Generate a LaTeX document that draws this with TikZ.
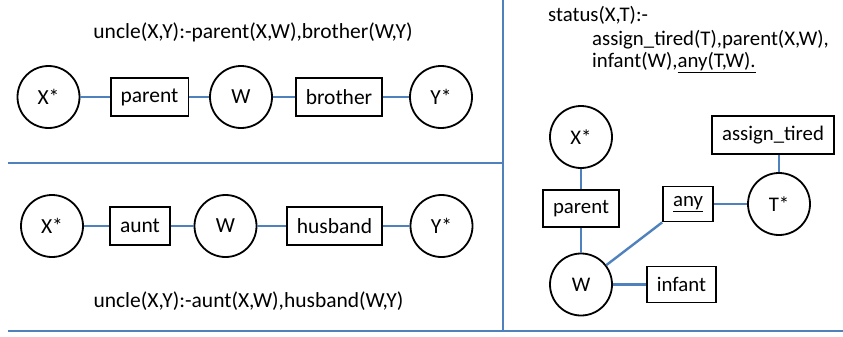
\documentclass[tikz,border=0pt]{standalone}
\usepackage{fontspec}
\setmainfont{Carlito}
\definecolor{lnblue}{HTML}{4F81BD}
\tikzset{
  var/.style={circle, draw=black, line width=1.8pt, minimum size=62pt, inner sep=0pt},
  rel/.style={rectangle, draw=black, line width=1.8pt, minimum height=38pt, inner xsep=10pt, inner ysep=0pt},
  link/.style={draw=lnblue, line width=2.4pt},
  panel/.style={draw=lnblue, line width=2.6pt},
  lbl/.style={inner sep=0pt},
  bigf/.style={font=\fontsize{21.5}{24}\selectfont},
  smallf/.style={font=\fontsize{20.8}{24}\selectfont}
}
\begin{document}
\begin{tikzpicture}[x=1pt,y=-1pt]
\useasboundingbox (0,0) rectangle (843,337);
% panel lines
\draw[panel] (503,0) -- (503,331);
\draw[panel] (8,163) -- (503,163);
\draw[panel] (8,331) -- (843,331);

% top-left
\node[lbl,bigf] (t1) at (253,32) {uncle(X,Y):-parent(X,W),brother(W,Y)};
\node[var,bigf] (X1) at (48.5,97) {X*};
\node[rel,bigf] (p1) at (149.5,97) {parent};
\node[var,bigf] (W1) at (241,97) {W};
\node[rel,bigf] (b1) at (339,97) {brother};
\node[var,bigf] (Y1) at (441,97) {Y*};
\draw[link] (X1) -- (p1);
\draw[link] (p1) -- (W1);
\draw[link] (W1) -- (b1);
\draw[link] (b1) -- (Y1);

% bottom-left
\node[var,bigf] (X2) at (52,226) {X*};
\node[rel,bigf] (a2) at (140,226) {aunt};
\node[var,bigf] (W2) at (225.5,226) {W};
\node[rel,bigf] (h2) at (334.5,226) {husband};
\node[var,bigf] (Y2) at (441.5,226) {Y*};
\node[lbl,bigf] (t2) at (248.5,301) {uncle(X,Y):-aunt(X,W),husband(W,Y)};
\draw[link] (X2) -- (a2);
\draw[link] (a2) -- (W2);
\draw[link] (W2) -- (h2);
\draw[link] (h2) -- (Y2);

% right panel text
\node[lbl,smallf,anchor=west] (r1) at (548,15) {status(X,T):-};
\node[lbl,smallf,anchor=west] (r2) at (592,40) {assign\_tired(T),parent(X,W),};
\node[lbl,smallf,anchor=west] (r3) at (592,63) {infant(W),\underline{any(T,W).}};

% right graph
\node[var,smallf] (X3) at (581,137) {X*};
\node[rel,smallf,minimum height=37pt] (pr3) at (581,208.5) {parent};
\node[var,smallf] (W3) at (581,284.5) {W};
\node[rel,smallf,minimum height=36pt] (inf3) at (681.5,284.5) {infant};
\node[rel,smallf,minimum height=35pt] (any3) at (688,204) {\underline{any}};
\node[var,smallf] (T3) at (779,204) {T*};
\node[rel,smallf] (at3) at (773,135) {assign\_tired};
\draw[link] (X3) -- (pr3);
\draw[link] (pr3) -- (W3);
\draw[link] (W3) -- (inf3);
\draw[link] (W3) -- (any3.south west);
\draw[link] (any3) -- (T3);
\draw[link] (T3.north) -- (T3.north |- at3.south);
\end{tikzpicture}
\end{document}
